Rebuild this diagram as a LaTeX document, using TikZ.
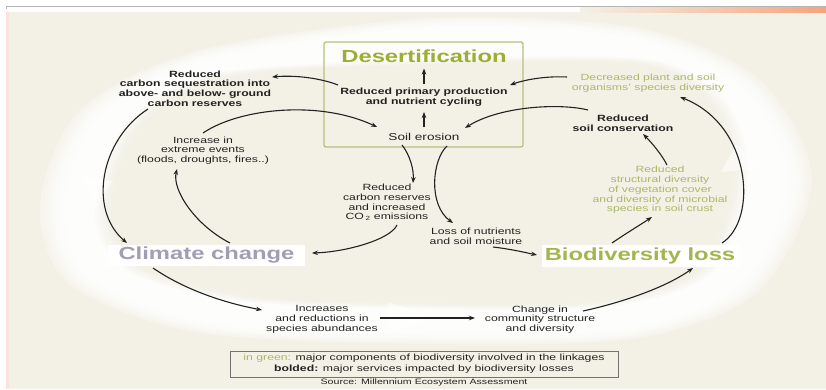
\documentclass[tikz,border=0pt]{standalone}
\usepackage{fontspec}
\setmainfont{Liberation Sans}[FakeStretch=1.36]
\usetikzlibrary{arrows.meta}
\definecolor{panel}{HTML}{F3F1E6}
\definecolor{boxline}{HTML}{B9C07C}
\definecolor{olive}{HTML}{9DAE32}
\definecolor{leaf}{HTML}{A9B868}
\definecolor{biogreen}{HTML}{A3B64C}
\definecolor{lavender}{HTML}{A39DB4}
\definecolor{topline}{HTML}{B4B4B4}
\definecolor{peach}{HTML}{F5A47C}
\definecolor{blush}{HTML}{F8E4DC}
\definecolor{ink}{HTML}{222222}
\tikzset{
  txt/.style={align=center, inner sep=1pt, text=ink, font=\fontsize{9}{9.7}\selectfont},
  btxt/.style={txt, font=\fontsize{9}{9.7}\selectfont\bfseries},
  gtxt/.style={txt, text=leaf},
  heading/.style={inner sep=0pt, font=\fontsize{17.5}{20}\selectfont\bfseries},
  arr/.style={draw=ink, line width=1.1pt, -{Stealth[length=6pt,width=4.5pt]}},
  chevron/.style={fill=white, opacity=0.5},
}
\begin{document}
\begin{tikzpicture}[x=1pt,y=-1pt]
\useasboundingbox (0,0) rectangle (826,390);

% page frame: rule at the top, peach band, beige panel
\fill[panel] (9,12) rectangle (826,389);
\fill[blush] (6,12) rectangle (9,389);
\shade[left color=panel, right color=peach] (580,7.5) rectangle (826,12.5);
\draw[topline, line width=1pt] (6,9.5) -- (6,7) -- (826,7);

% soft white ring behind the cycle, built up from graded layers
\def\outerpts{(40,205) (80,110) (200,50) (430,18) (640,28) (760,80) (812,180) (760,290) (640,338) (430,344) (200,333) (70,285)}
\def\innerpts{(108,215) (135,130) (220,78) (430,64) (640,64) (715,105) (736,180) (700,270) (600,302) (430,304) (250,297) (140,268)}
\foreach \s/\o in {1.0/0.25, 0.99/0.25, 0.98/0.25, 0.97/0.3, 0.96/0.3, 0.95/0.35, 0.94/0.4}{
  \begin{scope}[scale around={\s:(430,180)}]
    \fill[white, opacity=\o] plot[smooth cycle] coordinates {\outerpts};
  \end{scope}
}
\foreach \s/\o in {1.04/0.2, 1.03/0.25, 1.02/0.3, 1.01/0.35, 1.0/0.45, 0.99/0.6, 0.98/1}{
  \begin{scope}[scale around={\s:(430,180)}]
    \fill[panel, opacity=\o] plot[smooth cycle] coordinates {\innerpts};
  \end{scope}
}
% arrow tips worked into the ring
\fill[chevron] (80,176) -- (113,181) -- (95,204) -- cycle;
\fill[chevron] (721,172) -- (762,168) -- (736,144) -- cycle;
\fill[chevron] (388,302) -- (436,317) -- (390,333) -- cycle;

% desertification frame
\node[draw=boxline, line width=1.3pt, rounded corners=2pt,
      minimum width=199pt, minimum height=105pt, inner sep=0pt] (dbox) at (423.5,94.5) {};
\node[heading, text=olive] (title) at (424,56) {Desertification};
\node[btxt] (rpp) at (424,97.5) {Reduced primary production\\and nutrient cycling};
\node[txt, font=\fontsize{10}{11}\selectfont] (soil) at (424,137) {Soil erosion};

% statements round the cycle
\node[btxt] (carb) at (195,88.5) {Reduced\\carbon sequestration into\\above- and below- ground\\carbon reserves};
\node[gtxt] (decr) at (648,83) {Decreased plant and soil\\organisms' species diversity};
\node[btxt] (rsc) at (623,123) {Reduced\\soil conservation};
\node[txt] (ext) at (203,150.5) {Increase in\\extreme events\\(floods, droughts, fires..)};
\node[txt] (rcr) at (387,202.5) {Reduced\\carbon reserves\\and increased\\CO\,\textsubscript{2} emissions};
\node[heading, text=lavender, fill=white, minimum width=197pt, minimum height=21pt] (clim) at (206.5,255) {Climate change};
\node[txt] (loss) at (476,236.5) {Loss of nutrients\\and soil moisture};
\node[heading, text=biogreen, fill=white, minimum width=197pt, minimum height=22pt] (bio) at (640,256) {Biodiversity loss};
\node[gtxt] (rsd) at (660,190) {Reduced\\structural diversity\\of vegetation cover\\and diversity of microbial\\species in soil crust};
\node[txt] (incr) at (322,319.5) {Increases\\and reductions in\\species abundances};
\node[txt] (chg) at (540,319.5) {Change in\\community structure\\and diversity};

% key and source
\node[draw=black!55, line width=0.8pt, minimum width=388pt, minimum height=26pt, align=center,
      inner sep=1pt, text=ink, font=\fontsize{9}{11}\selectfont] (legend) at (424,364)
  {{\color{leaf}in green:} major components of biodiversity involved in the linkages\\
   \textbf{bolded:} major services impacted by biodiversity losses};
\node[txt, font=\fontsize{7.8}{9}\selectfont] (src) at (424,382) {Source: Millennium Ecosystem Assessment};

% connectors
\draw[arr] ([shift={(0,-13)}]rpp.center) -- ([shift={(0,12.5)}]title.center);
\draw[arr] ([shift={(0,-9.5)}]soil.center) -- ([shift={(0,14.5)}]rpp.center);
\draw[arr] ([shift={(-86,-12.5)}]rpp.center) .. controls (320,78) and (295,75) .. ([shift={(77,-11.5)}]carb.center);
\draw[arr] ([shift={(-81,-6)}]decr.center) .. controls (548,76) and (527,79) .. ([shift={(86,-12.5)}]rpp.center);
\draw[arr] ([shift={(-35,-13)}]rsc.center) .. controls (560,103) and (500,106) .. ([shift={(41,-9)}]soil.center);
\draw[arr] ([shift={(0,-17.5)}]ext.center) .. controls (240,108) and (320,100) .. ([shift={(-47,-10)}]soil.center);
\draw[arr] ([shift={(-22,8)}]soil.center) .. controls (410,155) and (414,170) .. ([shift={(26,-19.5)}]rcr.center);
\draw[arr] ([shift={(10,22.5)}]rcr.center) .. controls (390,240) and (345,252) .. ([shift={(105.5,-2)}]clim.center);
\draw[arr] ([shift={(23.5,-12)}]clim.center) .. controls (195,225) and (172,190) .. ([shift={(-26,18.5)}]ext.center);
\draw[arr] ([shift={(-47,20.5)}]carb.center) .. controls (100,140) and (88,210) .. ([shift={(-79.5,-12)}]clim.center);
\draw[arr] ([shift={(23,9)}]soil.center) .. controls (432,160) and (428,205) .. ([shift={(-23,-13.5)}]loss.center);
\draw[arr] ([shift={(17,10.5)}]loss.center) .. controls (510,249) and (523,252) .. ([shift={(-103,-1)}]bio.center);
\draw[arr] ([shift={(-28,-13)}]bio.center) .. controls (625,234) and (640,225) .. ([shift={(-8,27)}]rsd.center);
\draw[arr] ([shift={(7,-25)}]rsd.center) .. controls (662,155) and (652,143) .. ([shift={(20,11)}]rsc.center);
\draw[arr] ([shift={(82,-13)}]bio.center) .. controls (758,220) and (752,125) .. ([shift={(32,14)}]decr.center);
\draw[arr] ([shift={(-53.5,13)}]clim.center) .. controls (185,290) and (225,303) .. ([shift={(-60,-9.5)}]incr.center);
\draw[arr] ([shift={(58,-1.5)}]incr.center) -- ([shift={(-65,-1.5)}]chg.center);
\draw[arr] ([shift={(43,-8.5)}]chg.center) .. controls (620,303) and (665,288) .. ([shift={(53,12)}]bio.center);
\end{tikzpicture}
\end{document}
